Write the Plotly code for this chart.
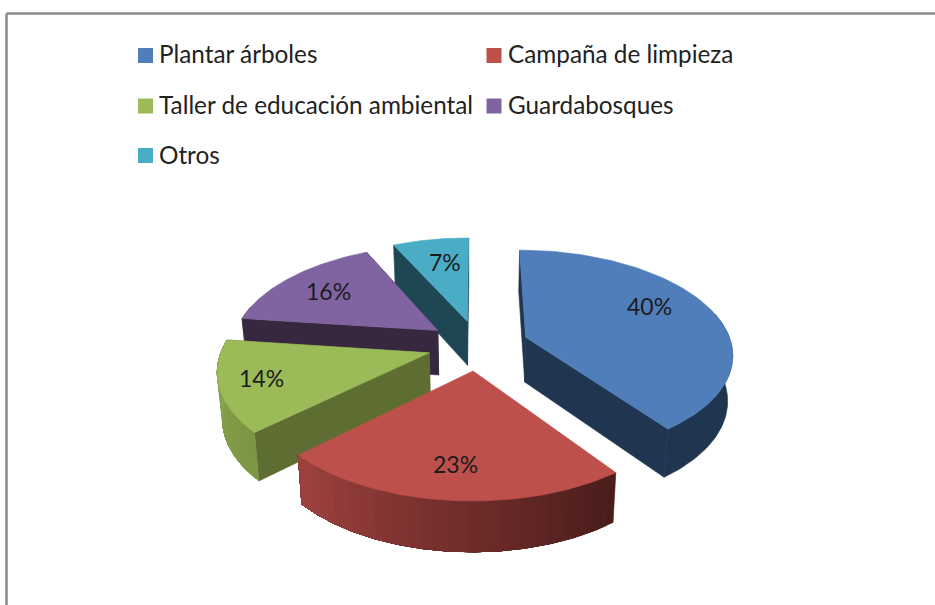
import numpy as np
import plotly.graph_objects as go

# ---- data ----
categories = ["Plantar árboles", "Campaña de limpieza", "Taller de educación ambiental", "Guardabosques", "Otros"]
values = [40, 23, 14, 16, 7]

# ---- styles ----
top_colors = ["#4F7EBA", "#BE504C", "#9BBB59", "#8064A2", "#4BACC6"]
cut_colors = ["#1F3550", None, "#5E6E33", "#37273F", "#1F4753"]        # None: its cut faces are hidden
wall_from = ["#1F3550", "#4A1D1B", "#7C9644", "#37273F", "#1F4753"]   # clockwise start of the arc
wall_to = ["#1F3550", "#A04240", "#8BA850", "#37273F", "#1F4753"]     # clockwise end of the arc
paint_order = [4, 3, 2, 0, 1]

# ---- projection of the tilted pie onto the chart's pixel-sized axes ----
CX, CY, R, A, K, EXPLODE, H = 478.0, 345.0, 206.0, 102.2, 0.148, 0.246, 45.0
BOTTOM_SHRINK = 0.98


def project(t_deg, r, mid_deg, bottom=False):
    t, m = np.radians(t_deg), np.radians(mid_deg)
    u = r * np.sin(t) + EXPLODE * np.sin(m)
    v = -r * np.cos(t) - EXPLODE * np.cos(m)
    w = 1.0 / (1.0 - K * v)
    x = R * u * w
    y = A * v * w
    if bottom:
        return CX + x * BOTTOM_SHRINK, CY + y + H * w ** 0.6
    return CX + x, CY + y


def hex2rgb(c):
    return np.array([int(c[i:i + 2], 16) for i in (1, 3, 5)], dtype=float)


def mix(c0, c1, f):
    r = hex2rgb(c0) * (1 - f) + hex2rgb(c1) * f
    return "rgb(%d,%d,%d)" % tuple(r.round())


def poly(xs, ys, color):
    return go.Scatter(x=list(xs), y=list(ys), mode="lines", fill="toself", fillcolor=color,
                      line=dict(color=color, width=0.6), hoverinfo="skip", showlegend=False)


fig = go.Figure()
total = sum(values)
edges = np.cumsum([0] + values) / total * 360.0

for i in paint_order:
    t0, t1 = edges[i], edges[i + 1]
    m = (t0 + t1) / 2
    # the two cut faces
    if cut_colors[i] is not None:
        for t in (t0, t1):
            ax, ay = project(t, 0, m)
            bx, by = project(t, 0, m, True)
            ox, oy = project(t, 1, m)
            px, py = project(t, 1, m, True)
            fig.add_trace(poly([ax, ox, px, bx, ax], [ay, oy, py, by, ay], cut_colors[i]))
    # the outer wall: nested polygons, each repainting the rest of the arc, so a gradient shows no seams
    ts = np.linspace(t0, t1, 160)
    ts = ts[np.cos(np.radians(ts)) < 0.25]
    if len(ts) >= 2:
        steps = 1 if wall_from[i] == wall_to[i] else 36
        for s in range(steps):
            part = ts[int((len(ts) - 2) * s / steps):]
            f = (part[0] - t0) / (t1 - t0)
            upper = [project(t, 1, m) for t in part]
            lower = [project(t, 1, m, True) for t in part[::-1]]
            ring = upper + lower + upper[:1]
            fig.add_trace(poly([p[0] for p in ring], [p[1] for p in ring], mix(wall_from[i], wall_to[i], f)))
    # the top face
    arc = np.linspace(t0, t1, 90)
    pts = [project(t, 1, m) for t in arc]
    ax, ay = project(t0, 0, m)
    fig.add_trace(poly([ax] + [p[0] for p in pts] + [ax], [ay] + [p[1] for p in pts] + [ay], top_colors[i]))

# ---- percentage labels ----
label_xy = [(649, 306), (455, 464), (261, 378), (328, 291), (445, 262)]
FONT = "Lato, Carlito, Calibri, sans-serif"
for v, (x, y) in zip(values, label_xy):
    fig.add_annotation(x=x, y=y, text=f"{v}%", showarrow=False, xanchor="center", yanchor="middle",
                       font=dict(family=FONT, size=23, color="#1c1c1c"))

# ---- legend: two columns, three rows ----
swatch_xy = [(145.5, 55.5), (494, 55.5), (145.5, 106), (494, 106), (145.5, 155.5)]
text_xy = [(157, 53), (506, 53), (157, 104.5), (506, 104.5), (157, 154.5)]
for name, color, (sx, sy), (tx, ty) in zip(categories, top_colors, swatch_xy, text_xy):
    fig.add_trace(go.Scatter(x=[sx], y=[sy], mode="markers", name=name, showlegend=False, hoverinfo="name",
                             marker=dict(symbol="square", size=15, color=color)))
    fig.add_annotation(x=tx, y=ty, text=name, showarrow=False, xanchor="left", yanchor="middle",
                       font=dict(family=FONT, size=24.3, color="#222222"))

# ---- frame (only the top and left edges are in the picture) ----
frame = dict(type="line", line=dict(color="#8A8A8A", width=2.5))
fig.add_shape(x0=6.5, x1=935, y0=13.5, y1=13.5, **frame)
fig.add_shape(x0=6.5, x1=6.5, y0=13.5, y1=605, **frame)

fig.update_layout(
    width=935, height=605, autosize=False,
    margin=dict(l=0, r=0, t=0, b=0),
    paper_bgcolor="white", plot_bgcolor="white", showlegend=False,
    xaxis=dict(range=[0, 935], visible=False, fixedrange=True),
    yaxis=dict(range=[605, 0], visible=False, fixedrange=True),
)
fig.write_html("out.html", config={"displayModeBar": False},
               post_script="document.body.style.margin='0';document.documentElement.style.overflow='hidden';")
